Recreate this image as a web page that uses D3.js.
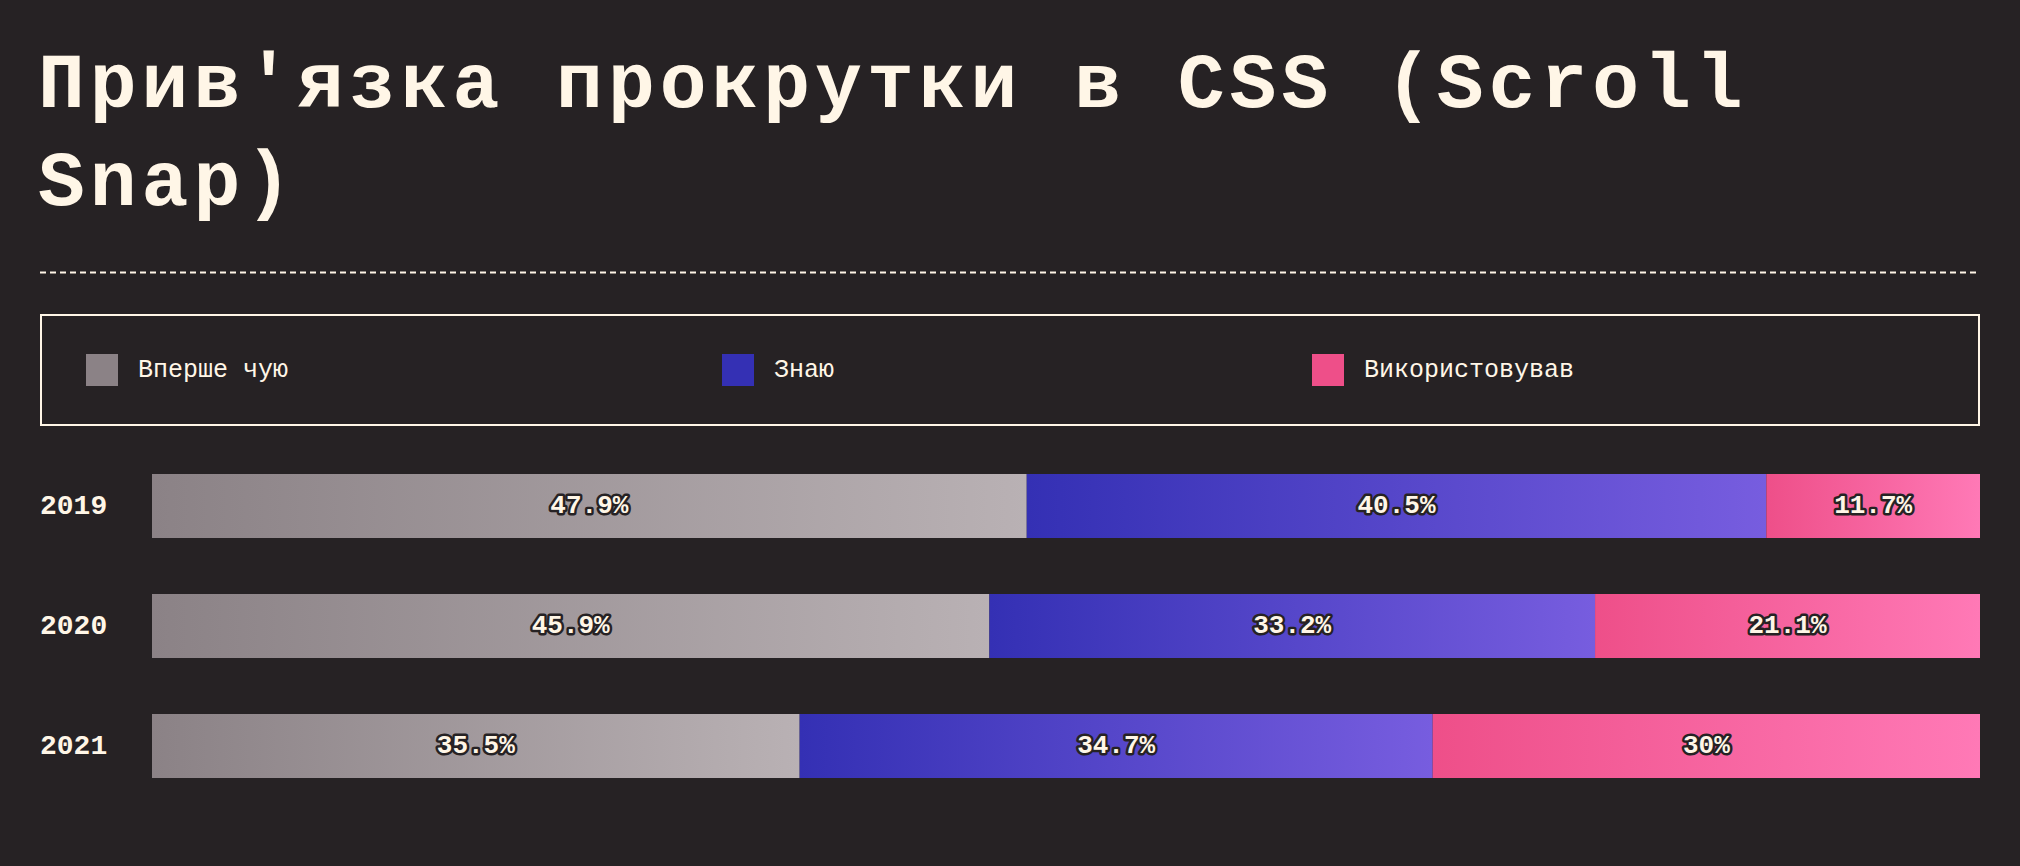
<!DOCTYPE html>
<html><head><meta charset="utf-8">
<script src="https://cdn.jsdelivr.net/npm/d3@7"></script>
<style>
html,body{margin:0;padding:0;background:#262224;}
svg{display:block;}
</style></head>
<body>
<script>
const titleLines = ["Прив'язка прокрутки в CSS (Scroll", "Snap)"];
const years = ["2019", "2020", "2021"];
const seriesNames = ["Вперше чую", "Знаю", "Використовував"];
const neverHeard = [47.9, 45.9, 35.5];
const know = [40.5, 33.2, 34.7];
const used = [11.7, 21.1, 30];
const gradStart = ["#8b8286", "#3430b4", "#ee4f89"];
const gradEnd = ["#b9b1b4", "#775ddf", "#ff79b6"];

const W = 2020, H = 866;
const cream = "#fff6e7", bg = "#262224";
const svg = d3.select("body").append("svg").attr("width", W).attr("height", H);
svg.append("rect").attr("width", W).attr("height", H).attr("fill", bg);

const defs = svg.append("defs");
seriesNames.forEach((s, i) => {
  const g = defs.append("linearGradient").attr("id", "g" + i)
    .attr("x1", "0%").attr("x2", "100%").attr("y1", "0%").attr("y2", "0%");
  g.append("stop").attr("offset", "0%").attr("stop-color", gradStart[i]);
  g.append("stop").attr("offset", "100%").attr("stop-color", gradEnd[i]);
});

// Title
const title = svg.append("text").attr("fill", cream)
  .attr("font-family", "'Liberation Mono', monospace").attr("font-weight", "bold")
  .attr("font-size", 78).attr("letter-spacing", 5);
titleLines.forEach((t, i) => {
  title.append("tspan").attr("x", 38).attr("y", 107 + i * 98).text(t);
});

// dashed rule
svg.append("line").attr("x1", 40).attr("x2", 1980).attr("y1", 272.5).attr("y2", 272.5)
  .attr("stroke", cream).attr("stroke-width", 2).attr("stroke-dasharray", "6,4");

// Legend
svg.append("rect").attr("x", 41).attr("y", 315).attr("width", 1938).attr("height", 110)
  .attr("fill", "none").attr("stroke", cream).attr("stroke-width", 2);
const legendX = [86, 722, 1312];
const lg = svg.selectAll("g.leg").data(seriesNames).join("g").attr("class", "leg")
  .attr("transform", (d, i) => `translate(${legendX[i]},354)`);
lg.append("rect").attr("width", 32).attr("height", 32).attr("fill", (d, i) => gradStart[i]);
lg.append("text").attr("x", 52).attr("y", 23).attr("fill", cream)
  .attr("font-family", "'Liberation Mono', monospace").attr("font-size", 25).text(d => d);

// Data table
const rows = years.map((y, i) => ({year: y, s0: neverHeard[i], s1: know[i], s2: used[i]}));
const keys = ["s0", "s1", "s2"];
const stack = d3.stack().keys(keys).offset(d3.stackOffsetExpand);
const stacked = stack(rows);

const x = d3.scaleLinear().domain([0, 1]).range([152, 1980]);
const y = d3.scaleBand().domain(years).range([446, 806]).paddingInner(0.4667).paddingOuter(0.2333);

// year labels
svg.append("g").selectAll("text").data(years).join("text")
  .attr("x", 40).attr("y", d => y(d) + y.bandwidth() / 2 + 8)
  .attr("fill", cream).attr("font-family", "'Liberation Mono', monospace")
  .attr("font-weight", "bold").attr("font-size", 28).text(d => d);

const layers = svg.append("g").selectAll("g").data(stacked).join("g")
  .attr("fill", (d, i) => `url(#g${i})`);
layers.selectAll("rect").data(d => d).join("rect")
  .attr("x", d => x(d[0])).attr("width", d => x(d[1]) - x(d[0]))
  .attr("y", d => y(d.data.year)).attr("height", y.bandwidth());

// value labels
const labG = svg.append("g");
stacked.forEach((layer, li) => {
  labG.selectAll("text.l" + li).data(layer).join("text").attr("class", "l" + li)
    .attr("x", d => (x(d[0]) + x(d[1])) / 2)
    .attr("y", d => y(d.data.year) + y.bandwidth() / 2 + 7)
    .attr("text-anchor", "middle")
    .attr("font-family", "'Liberation Mono', monospace").attr("font-weight", "bold")
    .attr("font-size", 26).attr("fill", cream)
    .attr("stroke", bg).attr("stroke-width", 5).attr("stroke-linejoin", "round")
    .attr("paint-order", "stroke")
    .text(d => d.data[layer.key] + "%");
});
</script>
</body></html>
